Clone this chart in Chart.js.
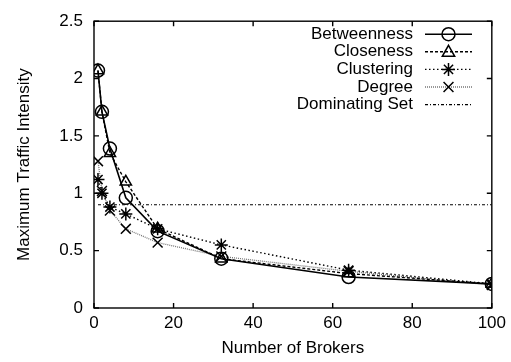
<!DOCTYPE html>
<html><head><meta charset="utf-8">
<script src="https://cdn.jsdelivr.net/npm/chart.js@4/dist/chart.umd.min.js"></script>
<style>html,body{margin:0;padding:0;background:#fff}#wrap{width:511px;height:362px}</style>
</head><body><div id="wrap"><canvas id="c" width="511" height="362"></canvas></div>
<script>
const brokers = [1, 2, 4, 8, 16, 32, 64, 100];
const betweenness = [2.07, 1.71, 1.39, 0.96, 0.67, 0.43, 0.27, 0.21];
const closeness   = [2.07, 1.71, 1.35, 1.10, 0.69, 0.43, 0.30, 0.21];
const clustering  = [1.12, 1.00, 0.88, 0.82, 0.69, 0.55, 0.33, 0.21];
const degree      = [1.28, 1.02, 0.85, 0.69, 0.57, 0.45, 0.32, 0.20];
const dominating  = [0.90, 0.90, 0.90, 0.90, 0.90, 0.90, 0.90, 0.90];
const xTicks = [0, 20, 40, 60, 80, 100];
const yTicks = [0, 0.5, 1, 1.5, 2, 2.5];
const seriesNames = ['Betweenness', 'Closeness', 'Clustering', 'Degree', 'Dominating Set'];

const FONT = '"Liberation Sans", Arial, sans-serif';
const FS = 17;
Chart.defaults.font.family = FONT;
Chart.defaults.font.size = FS;
Chart.defaults.color = '#000';

function pts(arr){ return brokers.map((b,i)=>({x:b,y:arr[i]})); }

const styles = [
  {data: betweenness, color:'#000', dash:[], width:1.6, point:'circle', r:6.5},
  {data: closeness, color:'#000', dash:[3,2], width:1.4, point:'triangle', r:6.5},
  {data: clustering, color:'#000', dash:[1.5,2.5], width:1.4, point:'star', r:6.5},
  {data: degree, color:'#777', dash:[1,1], width:1.3, point:'crossRot', r:7},
  {data: dominating, color:'#000', dash:[3,2,1,2], width:1.2, point:false, r:0}
];

const datasets = styles.map((s,i)=>({
  label: seriesNames[i],
  data: pts(s.data),
  borderColor: s.color,
  borderWidth: s.width,
  borderDash: s.dash,
  pointStyle: s.point,
  pointRadius: s.r,
  pointBorderColor: '#000',
  pointBackgroundColor: 'rgba(0,0,0,0)',
  pointBorderWidth: 1.5,
  fill: false,
  tension: 0
}));

function drawMarker(ctx, style, x, y, r){
  ctx.save();
  ctx.setLineDash([]);
  ctx.strokeStyle = '#000';
  ctx.lineWidth = 1.5;
  ctx.beginPath();
  if (style === 'circle') { ctx.arc(x, y, r, 0, Math.PI*2); }
  else if (style === 'triangle') {
    ctx.moveTo(x, y - r); ctx.lineTo(x + r*0.95, y + r*0.7); ctx.lineTo(x - r*0.95, y + r*0.7); ctx.closePath();
  } else if (style === 'star') {
    ctx.moveTo(x-r,y); ctx.lineTo(x+r,y); ctx.moveTo(x,y-r); ctx.lineTo(x,y+r);
    const d = r*0.707;
    ctx.moveTo(x-d,y-d); ctx.lineTo(x+d,y+d); ctx.moveTo(x-d,y+d); ctx.lineTo(x+d,y-d);
  } else if (style === 'crossRot') {
    const d = r*0.707;
    ctx.moveTo(x-d,y-d); ctx.lineTo(x+d,y+d); ctx.moveTo(x-d,y+d); ctx.lineTo(x+d,y-d);
  }
  ctx.stroke();
  ctx.restore();
}

const framePlugin = {
  id: 'frame',
  afterDraw(chart){
    const ctx = chart.ctx, a = chart.chartArea;
    const xs = chart.scales.x, ys = chart.scales.y;
    ctx.save();
    ctx.strokeStyle = '#000';
    ctx.lineWidth = 1.4;
    ctx.setLineDash([]);
    ctx.strokeRect(a.left, a.top, a.right - a.left, a.bottom - a.top);
    const tl = 5;
    ctx.beginPath();
    xTicks.forEach(v=>{
      const px = xs.getPixelForValue(v);
      ctx.moveTo(px, a.bottom); ctx.lineTo(px, a.bottom - tl);
      ctx.moveTo(px, a.top); ctx.lineTo(px, a.top + tl);
    });
    yTicks.forEach(v=>{
      const py = ys.getPixelForValue(v);
      ctx.moveTo(a.left, py); ctx.lineTo(a.left + tl, py);
      ctx.moveTo(a.right, py); ctx.lineTo(a.right - tl, py);
    });
    ctx.stroke();
    // legend
    ctx.font = FS + 'px ' + FONT;
    ctx.fillStyle = '#000';
    ctx.textAlign = 'right';
    ctx.textBaseline = 'middle';
    const textRight = a.left + 319, x0 = a.left + 331, x1 = a.left + 378, y0 = a.top + 13, dy = 17.6;
    seriesNames.forEach((n,i)=>{
      const y = y0 + i*dy;
      ctx.fillText(n, textRight, y);
      const s = styles[i];
      ctx.save();
      ctx.strokeStyle = s.color; ctx.lineWidth = s.width; ctx.setLineDash(s.dash);
      ctx.beginPath(); ctx.moveTo(x0, y); ctx.lineTo(x1, y); ctx.stroke();
      ctx.restore();
      if (s.point) drawMarker(ctx, s.point, (x0+x1)/2, y, s.r);
    });
    ctx.restore();
  }
};

new Chart(document.getElementById('c'), {
  type: 'line',
  data: { datasets },
  options: {
    responsive: false,
    animation: false,
    devicePixelRatio: 1,
    layout: { padding: { left: 0, top: 14, right: 17, bottom: 0 } },
    plugins: { legend: { display: false }, tooltip: { enabled: false } },
    scales: {
      x: {
        type: 'linear', min: 0, max: 100,
        afterBuildTicks: s => { s.ticks = xTicks.map(v=>({value:v})); },
        afterFit: s => { s.height = 54; },
        grid: { display: false, drawTicks: false },
        border: { display: false },
        ticks: { padding: 5, color: '#000', font: { size: FS } },
        title: { display: true, text: 'Number of Brokers', color: '#000', font: { size: FS }, padding: { top: 0, bottom: 3 } }
      },
      y: {
        type: 'linear', min: 0, max: 2.5,
        afterBuildTicks: s => { s.ticks = yTicks.map(v=>({value:v})); },
        afterFit: s => { s.width = 94; },
        grid: { display: false, drawTicks: false },
        border: { display: false },
        ticks: { padding: 11, color: '#000', font: { size: FS }, callback: v => String(v) },
        title: { display: true, text: 'Maximum Traffic Intensity', color: '#000', font: { size: FS }, padding: { top: 14, bottom: 0 } }
      }
    }
  },
  plugins: [framePlugin]
});
</script>
</body></html>
